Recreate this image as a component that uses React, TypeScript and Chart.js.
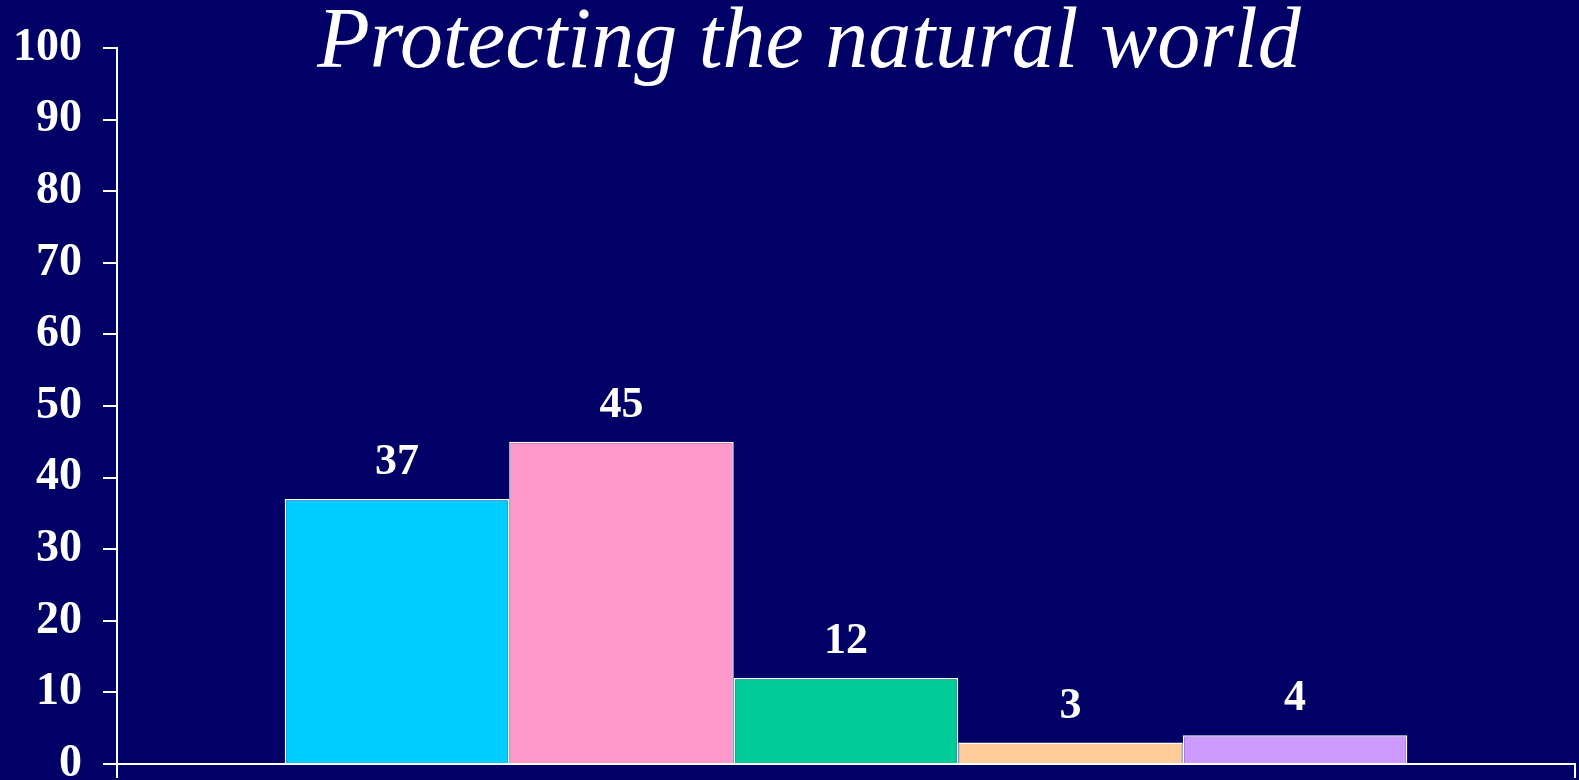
import React, { useEffect, useRef } from "react";
import { Chart, registerables } from "chart.js";

Chart.register(...registerables);

const TITLE = "Protecting the natural world";
const CATEGORIES = [""];
const SERIES_NAMES = ["A", "B", "C", "D", "E"];
const SERIES_VALUES = [37, 45, 12, 3, 4];
const SERIES_COLORS = ["#00CCFF", "#FF99CC", "#00CC99", "#FFCC99", "#CC99FF"];
const Y_MIN = 0;
const Y_MAX = 100;
const Y_STEP = 10;

const BG = "#000066";
const SERIF = "'Liberation Serif', 'Times New Roman', serif";

const titlePlugin = {
  id: "customTitle",
  afterDraw(chart: any) {
    const ctx = chart.ctx;
    ctx.save();
    ctx.fillStyle = "#FFFFFF";
    ctx.font = `italic 86px ${SERIF}`;
    ctx.textAlign = "center";
    ctx.textBaseline = "alphabetic";
    ctx.fillText(TITLE, 809, 67);
    ctx.restore();
  },
};

const valueLabelPlugin = {
  id: "valueLabels",
  afterDatasetsDraw(chart: any) {
    const ctx = chart.ctx;
    ctx.save();
    ctx.fillStyle = "#FFFFFF";
    ctx.font = `bold 44px ${SERIF}`;
    ctx.textAlign = "center";
    ctx.textBaseline = "alphabetic";
    chart.data.datasets.forEach((ds: any, i: number) => {
      const meta = chart.getDatasetMeta(i);
      meta.data.forEach((bar: any, j: number) => {
        const v = ds.data[j];
        ctx.fillText(String(v), bar.x, bar.y - 25);
      });
    });
    ctx.restore();
  },
};

const bgPlugin = {
  id: "bg",
  beforeDraw(chart: any) {
    const ctx = chart.ctx;
    ctx.save();
    ctx.fillStyle = BG;
    ctx.fillRect(0, 0, chart.width, chart.height);
    ctx.restore();
  },
};

export default function App() {
  const canvasRef = useRef<HTMLCanvasElement | null>(null);

  useEffect(() => {
    document.body.style.margin = "0";
    document.body.style.background = BG;
    const canvas = canvasRef.current;
    if (!canvas) return;
    const chart = new Chart(canvas, {
      type: "bar",
      data: {
        labels: CATEGORIES,
        datasets: SERIES_NAMES.map((name, i) => ({
          label: name,
          data: [SERIES_VALUES[i]],
          backgroundColor: SERIES_COLORS[i],
          borderColor: "#FFFFFF",
          borderWidth: 1.5,
          categoryPercentage: 0.77,
          barPercentage: 1.0,
        })),
      },
      options: {
        animation: false,
        responsive: false,
        maintainAspectRatio: false,
        layout: { padding: { top: 48, right: 4, bottom: 0, left: 0 } },
        plugins: {
          legend: { display: false },
          title: { display: false },
          tooltip: { enabled: false },
        },
        scales: {
          x: {
            grid: {
              display: true,
              drawOnChartArea: false,
              drawTicks: true,
              tickLength: 14,
              color: "#FFFFFF",
              lineWidth: 2,
              offset: true,
            },
            border: { display: true, color: "#FFFFFF", width: 2 },
            ticks: { display: false },
            afterFit: (scale: any) => {
              scale.height = 16;
              scale.paddingLeft = 0;
              scale.paddingRight = 0;
            },
          },
          y: {
            min: Y_MIN,
            max: Y_MAX,
            grid: {
              display: true,
              drawOnChartArea: false,
              drawTicks: true,
              tickLength: 14,
              color: "#FFFFFF",
              lineWidth: 2,
            },
            border: { display: true, color: "#FFFFFF", width: 2 },
            ticks: {
              stepSize: Y_STEP,
              color: "#FFFFFF",
              padding: 21,
              font: { family: SERIF, size: 46, weight: "bold" },
            },
            afterFit: (scale: any) => {
              scale.width = 117;
              scale.paddingTop = 0;
              scale.paddingBottom = 0;
            },
          },
        },
      },
      plugins: [bgPlugin, valueLabelPlugin, titlePlugin],
    });
    return () => chart.destroy();
  }, []);

  return (
    <div style={{ position: "fixed", left: 0, top: 0, width: 1579, height: 780, background: BG }}>
      <canvas ref={canvasRef} width={1579} height={780} style={{ display: "block" }} />
    </div>
  );
}
